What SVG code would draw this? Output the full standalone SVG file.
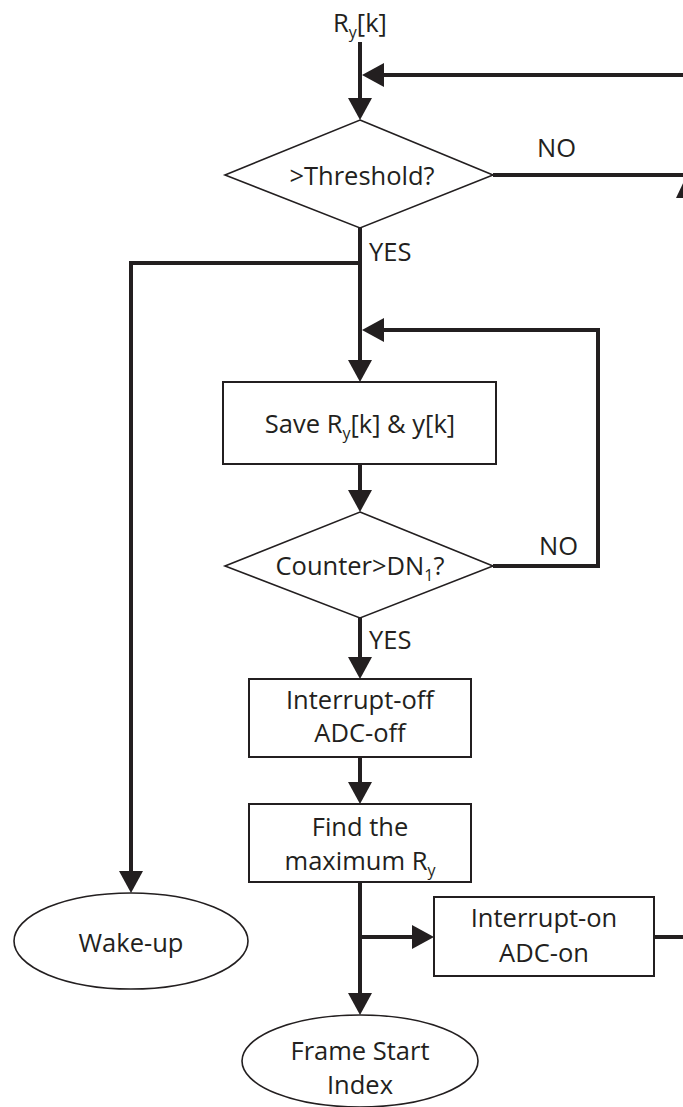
<svg xmlns="http://www.w3.org/2000/svg" width="683" height="1107" viewBox="0 0 683 1107">
  <style>
    text { font-family: "Open Sans", "Liberation Sans", sans-serif; font-size: 25.5px; fill: #231f20; text-anchor: middle; }
    .lbl { text-anchor: start; }
    .sub { font-size: 16px; }
    .box { fill: #ffffff; stroke: #231f20; stroke-width: 2; }
    .dec { fill: #ffffff; stroke: #231f20; stroke-width: 1.6; }
    .term { fill: #ffffff; stroke: #231f20; stroke-width: 1.6; }
    .wire { fill: none; stroke: #231f20; stroke-width: 4; stroke-linejoin: miter; }
    .flow { fill: none; stroke: #231f20; stroke-width: 4; stroke-linejoin: miter; marker-end: url(#head); }
  </style>
  <defs>
    <marker id="head" markerUnits="userSpaceOnUse" viewBox="0 0 22 24" refX="4" refY="12" markerWidth="22" markerHeight="24" orient="auto">
      <path d="M0,0 L22,12 L0,24 Z" fill="#231f20"/>
    </marker>
  </defs>

  <!-- input label -->
  <g id="input">
    <text x="360" y="32">R<tspan class="sub" dy="6">y</tspan><tspan dy="-6">[k]</tspan></text>
  </g>

  <!-- connectors -->
  <g id="connectors">
    <!-- input into threshold test -->
    <path class="flow" d="M360,42 V102"/>
    <!-- return path from the right -->
    <path class="flow" d="M690,75 H380"/>
    <!-- NO branch of threshold test -->
    <path class="wire" d="M493,175 H690"/>
    <polygon points="676,198 686,177 696,198" fill="#231f20"/>
    <!-- YES branch down to save block -->
    <path class="flow" d="M360,228 V364"/>
    <!-- YES branch to wake-up -->
    <path class="flow" d="M362,263 H131 V875"/>
    <!-- save block to counter test -->
    <path class="flow" d="M360,464 V494"/>
    <!-- NO loop of counter test -->
    <path class="flow" d="M493,566 H598 V330 H380"/>
    <!-- YES of counter test -->
    <path class="flow" d="M360,618 V661"/>
    <!-- interrupt-off to find maximum -->
    <path class="flow" d="M360,757 V786"/>
    <!-- find maximum to frame start index -->
    <path class="flow" d="M360,882 V997"/>
    <!-- side branch to interrupt-on -->
    <path class="flow" d="M360,937 H416"/>
    <!-- interrupt-on output to the right -->
    <path class="wire" d="M654,937 H690"/>
  </g>

  <!-- connector labels -->
  <g id="labels">
    <text class="lbl" x="537" y="157">NO</text>
    <text class="lbl" x="369" y="261">YES</text>
    <text class="lbl" x="539" y="555">NO</text>
    <text class="lbl" x="369" y="649">YES</text>
  </g>

  <g id="threshold">
    <polygon class="dec" points="360,120 493,175 360,228 225,175"/>
    <text x="362" y="185">&gt;Threshold?</text>
  </g>

  <g id="save">
    <rect class="box" x="223" y="382" width="273" height="82"/>
    <text x="360" y="433">Save R<tspan class="sub" dy="6">y</tspan><tspan dy="-6">[k] &amp; y[k]</tspan></text>
  </g>

  <g id="counter">
    <polygon class="dec" points="360,512 493,566 360,618 225,566"/>
    <text x="360" y="575">Counter&gt;DN<tspan class="sub" dy="6">1</tspan><tspan dy="-6">?</tspan></text>
  </g>

  <g id="interrupt-off">
    <rect class="box" x="249" y="679" width="222" height="78"/>
    <text x="360" y="709">Interrupt-off</text>
    <text x="360" y="742">ADC-off</text>
  </g>

  <g id="find-max">
    <rect class="box" x="249" y="804" width="222" height="78"/>
    <text x="360" y="836">Find the</text>
    <text x="360" y="870">maximum R<tspan class="sub" dy="6">y</tspan></text>
  </g>

  <g id="interrupt-on">
    <rect class="box" x="434" y="897" width="220" height="79"/>
    <text x="544" y="927">Interrupt-on</text>
    <text x="544" y="962">ADC-on</text>
  </g>

  <g id="wake-up">
    <ellipse class="term" cx="131" cy="941" rx="117" ry="48"/>
    <text x="131" y="952">Wake-up</text>
  </g>

  <g id="frame-start">
    <ellipse class="term" cx="360" cy="1061" rx="118" ry="46"/>
    <text x="360" y="1060">Frame Start</text>
    <text x="360" y="1094">Index</text>
  </g>
</svg>
